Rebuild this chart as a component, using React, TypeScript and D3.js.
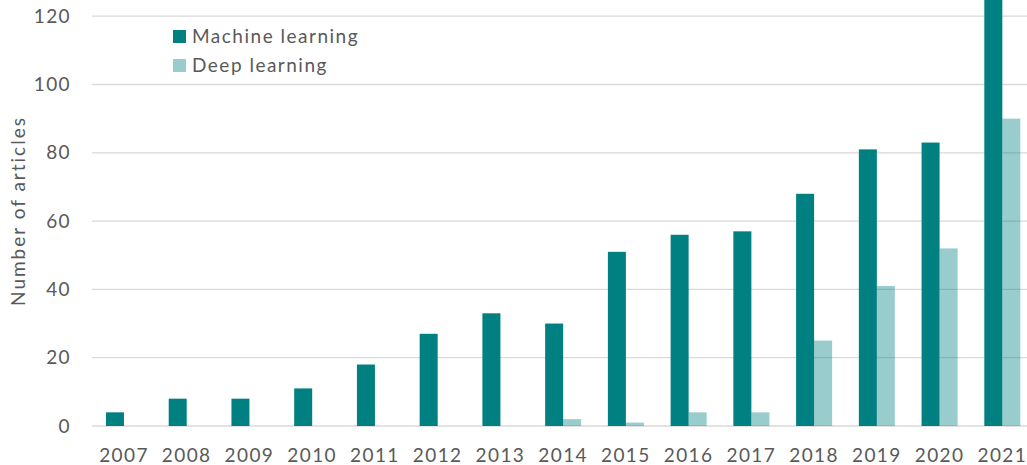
import React from "react";
import * as d3 from "d3";

const years = ["2007","2008","2009","2010","2011","2012","2013","2014","2015","2016","2017","2018","2019","2020","2021"];
const machineLearning = [4, 8, 8, 11, 18, 27, 33, 30, 51, 56, 57, 68, 81, 83, 136];
const deepLearning = [0, 0, 0, 0, 0, 0, 0, 2, 1, 4, 4, 25, 41, 52, 90];
const yTicks = [0, 20, 40, 60, 80, 100, 120];
const seriesNames = ["Machine learning", "Deep learning"];

const W = 1027, H = 465;
const FONT = "Lato, 'Open Sans', sans-serif";
const TEXT = "#595959";

export default function App() {
  const x = d3.scaleBand<string>().domain(years).range([92.6, 92.6 + 15 * 62.74]).paddingInner(0.426).paddingOuter(0.213);
  const sub = d3.scaleBand<string>().domain(seriesNames).range([0, x.bandwidth()]);
  const y = d3.scaleLinear().domain([0, 120]).range([426, 16.2]);
  const colors = ["#008080", "rgba(0,128,128,0.4)"];
  const series = [machineLearning, deepLearning];
  return (
    <svg width={W} height={H} style={{ position: "absolute", left: 0, top: 0 }}>
      <rect width={W} height={H} fill="#fff" />
      {yTicks.map((t) => (
        <g key={t}>
          <line x1={92} x2={W} y1={y(t)} y2={y(t)} stroke="#d9d9d9" strokeWidth={1.3} />
          <text x={71} y={y(t)} dy="0.35em" textAnchor="end" fontFamily={FONT} fontSize={19} letterSpacing={1.4} fill={TEXT}>{t}</text>
        </g>
      ))}
      {series.map((vals, si) =>
        years.map((yr, i) =>
          vals[i] > 0 ? (
            <rect key={si + yr} x={(x(yr) as number) + (sub(seriesNames[si]) as number)} width={sub.bandwidth()}
              y={y(vals[i])} height={y(0) - y(vals[i])} fill={colors[si]} />
          ) : null
        )
      )}
      {years.map((yr) => (
        <text key={yr} x={(x(yr) as number) + x.bandwidth() / 2} y={455} dy="0.35em" textAnchor="middle" fontFamily={FONT} fontSize={19} letterSpacing={1.4} fill={TEXT}>{yr}</text>
      ))}
      <text transform="translate(25,211) rotate(-90)" textAnchor="middle" fontFamily={FONT} fontSize={19} letterSpacing={2} fill={TEXT}>Number of articles</text>
      {seriesNames.map((n, i) => (
        <g key={n} transform={`translate(173,${30 + i * 29})`}>
          <rect width={13} height={13} fill={colors[i]} />
          <text x={19} y={6.5} dy="0.35em" fontFamily={FONT} fontSize={19} letterSpacing={1.5} fill={TEXT}>{n}</text>
        </g>
      ))}
    </svg>
  );
}
